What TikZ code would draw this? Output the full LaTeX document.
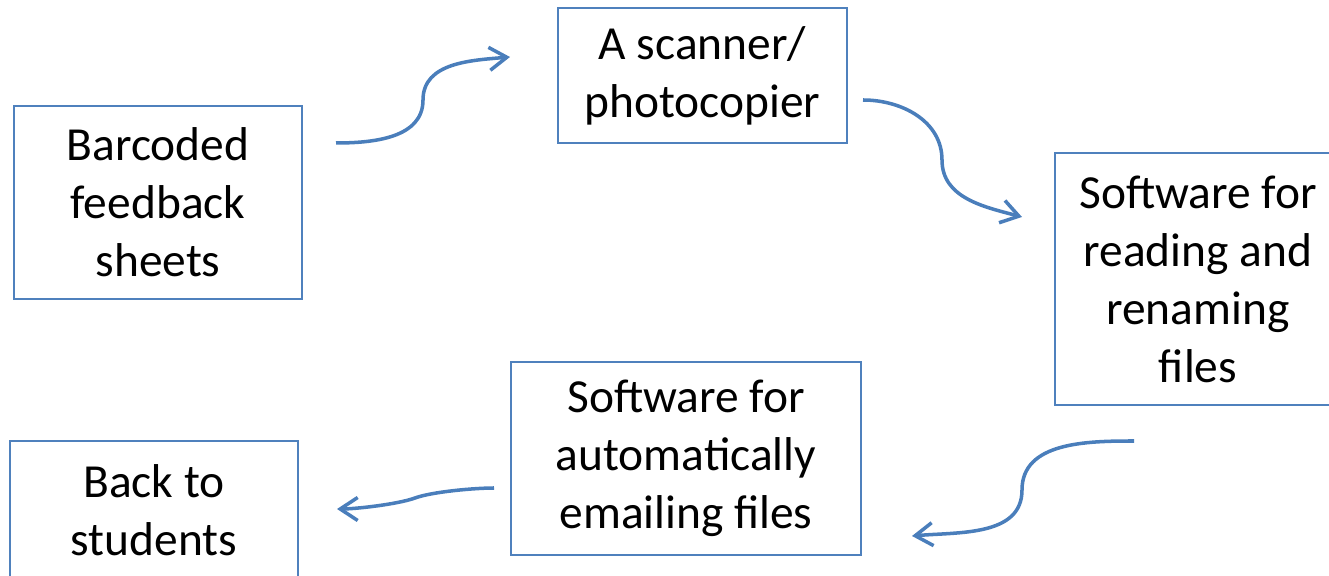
\documentclass[tikz,border=0pt]{standalone}
\usepackage{fontspec}
\setmainfont{Carlito}
\usepackage{tikz}
\usetikzlibrary{arrows.meta, positioning}
\definecolor{boxblue}{RGB}{79,129,189}
\definecolor{arrowblue}{RGB}{74,126,187}

\begin{document}
\begin{tikzpicture}[
	stepbox/.style={draw=boxblue, line width=1.1pt, align=center, inner sep=0pt, font=\fontsize{27}{33}\selectfont},
	flow/.style={draw=arrowblue, line width=2pt, -{Straight Barb[length=3.5mm,width=4.6mm,line width=2pt]}}]
	\useasboundingbox (0,0) rectangle (26.58,11.52);
	\node[stepbox, minimum width=5.76cm, minimum height=3.86cm] (sheets) at (3.16,7.47) {Barcoded\\feedback\\sheets};
	\node[stepbox, minimum width=5.78cm, minimum height=2.70cm] (scanner) at (14.05,10.01) {A scanner/\\photocopier};
	\node[stepbox, minimum width=5.72cm, minimum height=5.04cm] (reading) at (23.96,5.94) {Software for\\reading and\\renaming\\files};
	\node[stepbox, minimum width=7.00cm, minimum height=3.86cm] (emailing) at (13.72,2.35) {Software for\\automatically\\emailing files};
	\node[stepbox, minimum width=5.76cm, minimum height=2.76cm] (students) at (3.08,1.32) {Back to\\students};
	
	\coordinate (sheetsOut) at (6.72,8.66);
	\coordinate (bendOne) at (8.46,9.52);
	\coordinate (scannerIn) at (10.20,10.38);
	\coordinate (scannerOut) at (17.26,9.52);
	\coordinate (bendTwo) at (18.84,8.32);
	\coordinate (readingIn) at (20.44,7.18);
	\coordinate (readingOut) at (22.68,2.70);
	\coordinate (bendThree) at (20.44,1.72);
	\coordinate (emailingIn) at (18.24,0.80);
	\coordinate (emailingOut) at (9.88,1.76);
	\coordinate (bendFour) at (8.30,1.56);
	\coordinate (studentsIn) at (6.74,1.34);
	
	\draw[flow] (sheetsOut) to[out=0,in=-90] (bendOne) to[out=90,in=185] (scannerIn);
	\draw[flow] (scannerOut) to[out=0,in=90] (bendTwo) to[out=-90,in=165] (readingIn);
	\draw[flow] (readingOut) to[out=180,in=90] (bendThree) to[out=-90,in=5] (emailingIn);
	\draw[flow] (emailingOut) to[out=180,in=20,looseness=0.6] (bendFour) to[out=200,in=0,looseness=0.6] (studentsIn);
\end{tikzpicture}
\end{document}
